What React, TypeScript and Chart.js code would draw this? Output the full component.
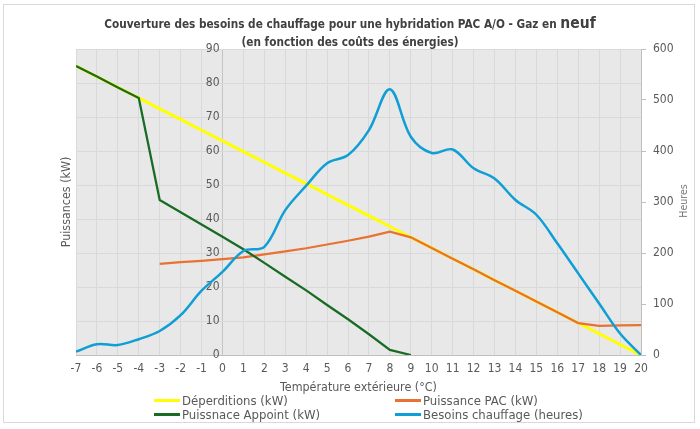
import React, { useEffect, useRef } from 'react';
import { Chart, registerables } from 'chart.js';

Chart.register(...registerables);

const temperatures = [-7, -6, -5, -4, -3, -2, -1, 0, 1, 2, 3, 4, 5, 6, 7, 8, 9, 10, 11, 12, 13, 14, 15, 16, 17, 18, 19, 20];
const deperditions = [85, 81.9, 78.7, 75.6, 72.4, 69.3, 66.1, 63.0, 59.8, 56.7, 53.5, 50.4, 47.2, 44.1, 40.9, 37.8, 34.6, 31.5, 28.3, 25.2, 22.0, 18.9, 15.7, 12.6, 9.4, 6.3, 3.1, 0];
const puissancePAC = [null, null, null, null, 26.8, 27.3, 27.7, 28.2, 28.7, 29.6, 30.5, 31.4, 32.5, 33.6, 34.8, 36.3, 34.6, 31.5, 28.3, 25.2, 22.0, 18.9, 15.7, 12.6, 9.4, 8.6, 8.7, 8.8];
const puissanceAppoint = [85, 81.9, 78.7, 75.6, 45.6, 42.0, 38.4, 34.8, 31.1, 27.1, 23.0, 19.0, 14.7, 10.5, 6.1, 1.5, 0, null, null, null, null, null, null, null, null, null, null, null];
const besoinsHeures = [6.5, 21, 19.6, 31, 47, 78, 126, 163, 204, 212, 284, 332, 376, 392, 441, 521, 428, 396, 403, 366, 346, 304, 275, 219, 160, 101, 42, 0];

const seriesNames = ['Déperditions (kW)', 'Puissance PAC (kW)', 'Puissnace Appoint (kW)', 'Besoins chauffage (heures)'];
const seriesColors = ['#ffff00', '#e97132', '#196b24', '#0f9ed5'];

const FONT = "'Liberation Sans Narrow', 'DejaVu Sans Condensed', 'Arial Narrow', sans-serif";
const TEXT = '#595959';

const toPoints = (vals: (number | null)[]) => temperatures.map((t, i) => ({ x: t, y: vals[i] }));

const plotBg = {
  id: 'plotBg',
  beforeDraw(chart: any) {
    const { ctx, chartArea } = chart;
    ctx.save();
    ctx.fillStyle = '#e8e8e8';
    ctx.fillRect(chartArea.left, chartArea.top, chartArea.right - chartArea.left, chartArea.bottom - chartArea.top);
    ctx.restore();
  },
};

export default function App() {
  const ref = useRef<HTMLCanvasElement>(null);

  useEffect(() => {
    if (!ref.current) return;
    Chart.defaults.font.family = FONT;
    const chart = new Chart(ref.current, {
      type: 'line',
      data: {
        datasets: [
          { label: seriesNames[0], data: toPoints(deperditions), borderColor: seriesColors[0], borderWidth: 3, pointRadius: 0, yAxisID: 'y', order: 3 },
          { label: seriesNames[1], data: toPoints(puissancePAC), borderColor: seriesColors[1], borderWidth: 2.25, pointRadius: 0, yAxisID: 'y', order: 2 },
          { label: seriesNames[2], data: toPoints(puissanceAppoint), borderColor: seriesColors[2], borderWidth: 2.25, pointRadius: 0, yAxisID: 'y', order: 1 },
          { label: seriesNames[3], data: toPoints(besoinsHeures), borderColor: seriesColors[3], borderWidth: 2.5, pointRadius: 0, yAxisID: 'y1', tension: 0.35, order: 0 },
        ] as any,
      },
      options: {
        responsive: false,
        animation: false,
        devicePixelRatio: 1,
        layout: { padding: { top: 49, left: 0, right: 0, bottom: 0 } },
        plugins: { legend: { display: false }, title: { display: false }, tooltip: { enabled: false } },
        scales: {
          x: {
            type: 'linear',
            min: -7,
            max: 20,
            ticks: { stepSize: 1, autoSkip: false, maxRotation: 0, color: TEXT, font: { size: 12 }, padding: 7 },
            grid: { color: (c: any) => (c.tick && c.tick.value === 0 ? '#c4c4c4' : '#d9d9d9'), drawTicks: false },
            border: { display: true, color: '#bfbfbf' },
            title: { display: true, text: 'Température extérieure (°C)', color: TEXT, font: { size: 12.4 }, padding: { top: 0, bottom: 34 } },
            afterFit: (s: any) => { s.height = 74; },
          },
          y: {
            type: 'linear',
            position: 'left',
            min: 0,
            max: 90,
            ticks: { display: false, stepSize: 10 },
            grid: { color: '#d9d9d9', drawTicks: false },
            border: { display: false },
            title: { display: true, text: 'Puissances (kW)', color: TEXT, font: { size: 12.4 }, padding: { top: 59, bottom: 0 } },
            afterFit: (s: any) => { s.width = 76; },
          },
          yt: {
            type: 'linear',
            position: { x: -0.14 } as any,
            min: 0,
            max: 90,
            ticks: { stepSize: 10, color: TEXT, font: { size: 12 } },
            grid: { display: false },
            border: { display: false },
          },
          y1: {
            type: 'linear',
            position: 'right',
            min: 0,
            max: 600,
            ticks: { stepSize: 100, color: TEXT, font: { size: 12 }, padding: 7 },
            grid: { drawOnChartArea: false, drawTicks: true, tickLength: 5, color: '#bfbfbf' },
            border: { display: true, color: '#bfbfbf' },
            afterFit: (s: any) => { s.width = 59; },
          },
        } as any,
      },
      plugins: [plotBg],
    });
    return () => chart.destroy();
  }, []);

  const legendPos = [
    { left: 154, top: 400 },
    { left: 395, top: 400 },
    { left: 154, top: 414 },
    { left: 395, top: 414 },
  ];

  return (
    <div style={{ position: 'absolute', left: 0, top: 0, width: 700, height: 429, background: '#fff', fontFamily: FONT }}>
      <div style={{ position: 'absolute', left: 3, top: 4, width: 692, height: 419, border: '1px solid #d9d9d9', boxSizing: 'border-box' }} />
      <canvas ref={ref} width={700} height={429} style={{ position: 'absolute', left: 0, top: 0, width: 700, height: 429 }} />
      <div style={{ position: 'absolute', left: 0, top: 15, width: 700, textAlign: 'center', color: '#404040', fontWeight: 'bold', fontSize: 11.7, lineHeight: '17px' }}>
        Couverture des besoins de chauffage pour une hybridation PAC A/O - Gaz en <span style={{ fontSize: 15.5 }}>neuf</span>
      </div>
      <div style={{ position: 'absolute', left: 0, top: 34, width: 700, textAlign: 'center', color: '#404040', fontWeight: 'bold', fontSize: 11.7, lineHeight: '16px' }}>
        (en fonction des coûts des énergies)
      </div>
      <div style={{ position: 'absolute', left: 675, top: 193, width: 16, height: 16, display: 'flex', alignItems: 'center', justifyContent: 'center', transform: 'rotate(-90deg)', color: '#7a7a7a', fontSize: 10.5, fontWeight: 400, whiteSpace: 'nowrap' }}>
        Heures
      </div>
      {seriesNames.map((n, i) => (
        <div key={n} style={{ position: 'absolute', left: legendPos[i].left, top: legendPos[i].top - 8, height: 16, display: 'flex', alignItems: 'center', whiteSpace: 'nowrap', color: TEXT, fontSize: 13 }}>
          <span style={{ display: 'inline-block', width: 26, height: 3, background: seriesColors[i], marginRight: 2 }} />
          <span>{n}</span>
        </div>
      ))}
    </div>
  );
}
